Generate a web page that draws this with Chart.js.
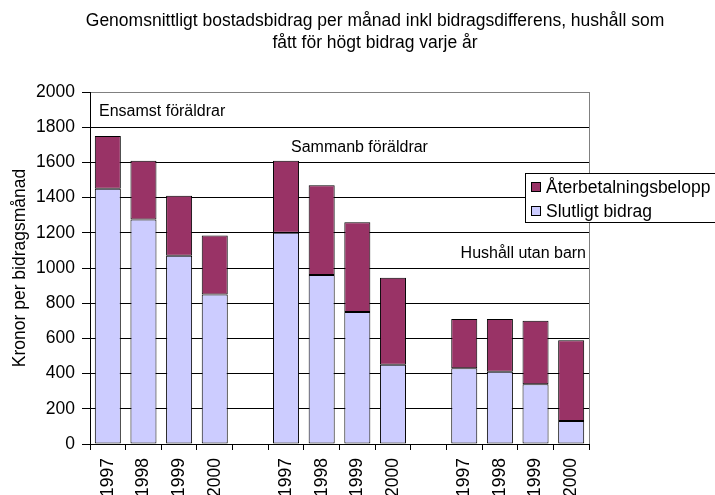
<!DOCTYPE html>
<html>
<head>
<meta charset="utf-8">
<script src="https://cdn.jsdelivr.net/npm/chart.js@4"></script>
<style>
  html, body { margin: 0; padding: 0; background: #fff; }
  #wrap { width: 715px; height: 495px; }
</style>
</head>
<body>
<div id="wrap"><canvas id="chart" width="715" height="495"></canvas></div>
<script>
const years = ["1997", "1998", "1999", "2000", "", "1997", "1998", "1999", "2000", "", "1997", "1998", "1999", "2000"];
// lower part of each bar
const slutligt = [1450, 1275, 1070, 850, null, 1200, 960, 750, 450, null, 430, 410, 340, 130];
// upper part of each bar
const aterbet = [300, 335, 340, 335, null, 410, 510, 510, 495, null, 280, 300, 360, 460];
const yTicks = [0, 200, 400, 600, 800, 1000, 1200, 1400, 1600, 1800, 2000];

const FONT = "'Liberation Sans', Arial, sans-serif";
const PURPLE = "#993366";
const LILAC = "#CCCCFF";

const extras = {
  id: "extras",
  afterDraw(chart) {
    const ctx = chart.ctx;
    const a = chart.chartArea;
    ctx.save();
    // gray frame on right side
    ctx.strokeStyle = "#808080";
    ctx.lineWidth = 1;
    ctx.beginPath();
    ctx.moveTo(Math.round(a.right) + 0.5, a.top);
    ctx.lineTo(Math.round(a.right) + 0.5, a.bottom);
    ctx.stroke();

    ctx.fillStyle = "#000";
    ctx.textBaseline = "alphabetic";

    // title
    ctx.font = "17.5px " + FONT;
    ctx.textAlign = "center";
    ctx.fillText("Genomsnittligt bostadsbidrag per månad inkl bidragsdifferens, hushåll som", 375, 26);
    ctx.fillText("fått för högt bidrag varje år", 375, 48);

    // group labels
    ctx.font = "16px " + FONT;
    ctx.textAlign = "left";
    ctx.fillText("Ensamst föräldrar", 99, 116);
    ctx.fillText("Sammanb föräldrar", 291, 152);
    ctx.textAlign = "right";
    ctx.fillText("Hushåll utan barn", 586, 258);

    // y axis title
    ctx.font = "17.5px " + FONT;
    ctx.save();
    ctx.translate(25, 268);
    ctx.rotate(-Math.PI / 2);
    ctx.textAlign = "center";
    ctx.fillText("Kronor per bidragsmånad", 0, 0);
    ctx.restore();

    // legend
    ctx.fillStyle = "#fff";
    ctx.fillRect(525, 173, 200, 50);
    ctx.strokeStyle = "#000";
    ctx.strokeRect(525.5, 173.5, 200, 49);
    const items = [
      { label: chart.data.datasets[1].label, color: chart.data.datasets[1].backgroundColor, y: 193 },
      { label: chart.data.datasets[0].label, color: chart.data.datasets[0].backgroundColor, y: 217 }
    ];
    items.forEach(it => {
      ctx.fillStyle = it.color;
      ctx.fillRect(531, it.y - 11, 10, 10);
      ctx.strokeStyle = "#000";
      ctx.strokeRect(531.5, it.y - 10.5, 9, 9);
      ctx.fillStyle = "#000";
      ctx.textAlign = "left";
      ctx.fillText(it.label, 546, it.y);
    });
    ctx.restore();
  }
};

new Chart(document.getElementById("chart"), {
  type: "bar",
  data: {
    labels: years,
    datasets: [
      { label: "Slutligt bidrag", data: slutligt, backgroundColor: LILAC, borderColor: "#000", borderWidth: 1, borderSkipped: false },
      { label: "Återbetalningsbelopp", data: aterbet, backgroundColor: PURPLE, borderColor: "#000", borderWidth: 1, borderSkipped: false }
    ]
  },
  options: {
    responsive: false,
    animation: false,
    devicePixelRatio: 1,
    layout: { padding: { top: 92, right: 126, left: 0, bottom: 0 } },
    datasets: { bar: { categoryPercentage: 1, barPercentage: 0.73 } },
    plugins: {
      legend: { display: false },
      title: { display: false },
      tooltip: { enabled: false }
    },
    scales: {
      x: {
        stacked: true,
        afterFit: s => { s.height = 51; },
        grid: { offset: true, drawOnChartArea: false, drawTicks: true, tickLength: 6, color: "#000" },
        border: { color: "#000" },
        ticks: { color: "#000", font: { family: FONT, size: 17.5 }, minRotation: 90, maxRotation: 90, padding: 8, autoSkip: false }
      },
      y: {
        stacked: true,
        min: 0,
        max: 2000,
        afterFit: s => { s.width = 90; },
        afterBuildTicks: s => { s.ticks = yTicks.map(v => ({ value: v })); },
        grid: {
          color: c => (c.tick && c.tick.value === 2000 ? "#808080" : "#000"),
          tickLength: 8,
          tickColor: "#000"
        },
        border: { color: "#000" },
        ticks: { color: "#000", font: { family: FONT, size: 17.5 }, padding: 7, autoSkip: false, callback: v => String(v) }
      }
    }
  },
  plugins: [extras]
});
</script>
</body>
</html>
